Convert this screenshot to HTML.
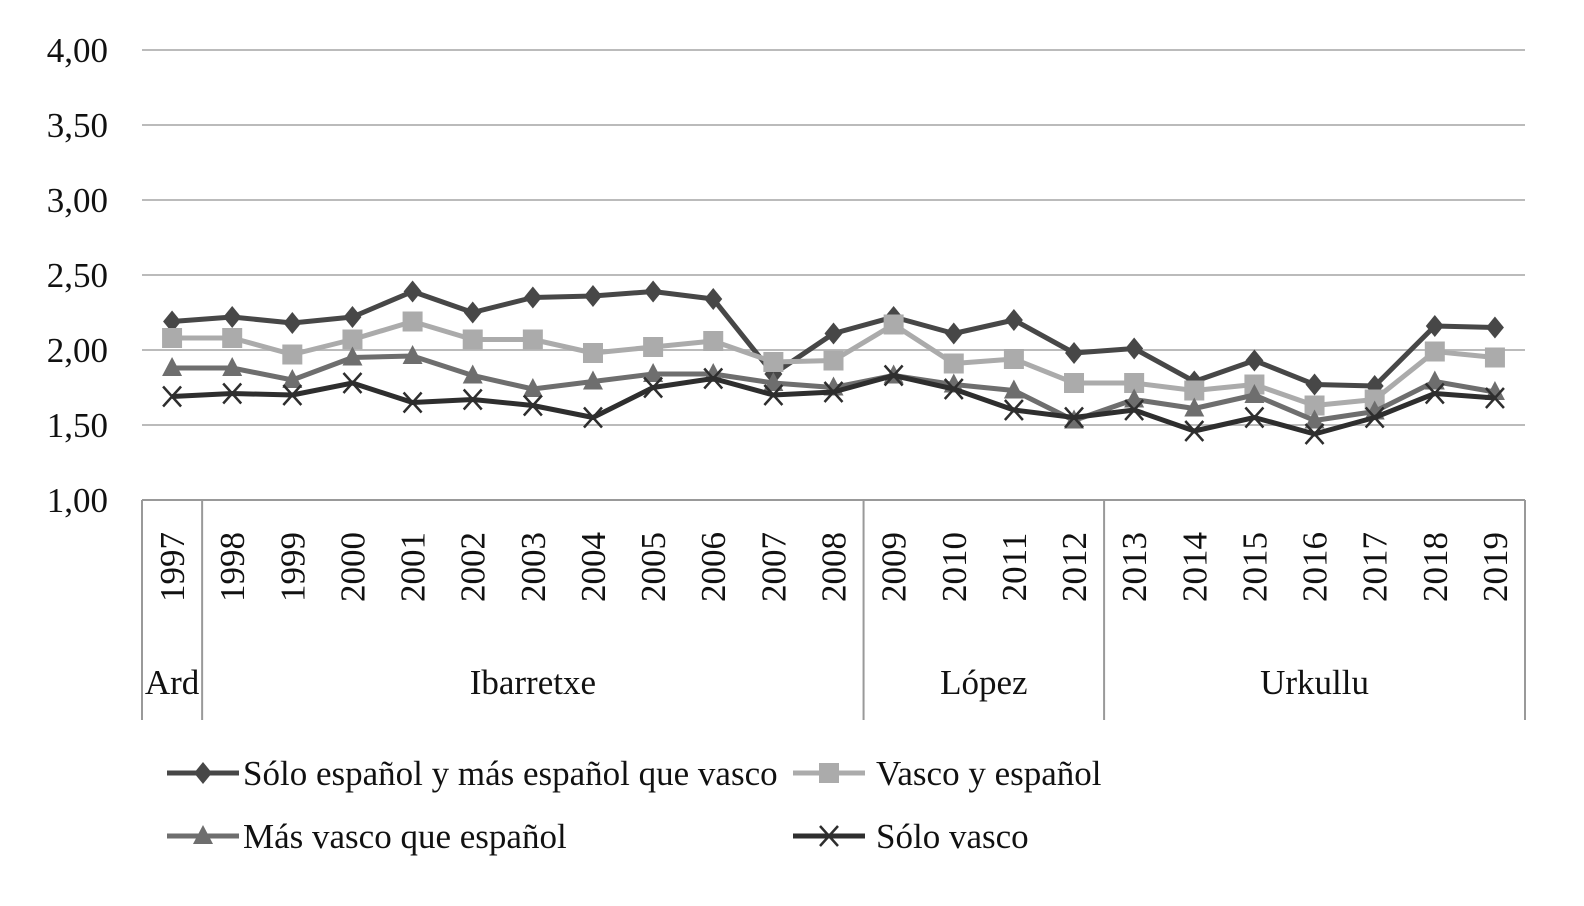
<!DOCTYPE html>
<html><head><meta charset="utf-8"><style>
body{margin:0;background:#fff;}
svg text{font-family:"Liberation Serif",serif;fill:#111;}
</style></head><body>
<svg id="chart" width="1584" height="901" xmlns="http://www.w3.org/2000/svg">
<g id="grid"></g><g id="axes"></g><g id="series"></g><g id="legend"></g>
</svg>
<script>
const years=["1997","1998","1999","2000","2001","2002","2003","2004","2005","2006","2007","2008","2009","2010","2011","2012","2013","2014","2015","2016","2017","2018","2019"];
const yTicks=[1,1.5,2,2.5,3,3.5,4];
const groups=[["Ard",0,1],["Ibarretxe",1,12],["López",12,16],["Urkullu",16,23]];
const s1=[2.19,2.22,2.18,2.22,2.39,2.25,2.35,2.36,2.39,2.34,1.84,2.11,2.22,2.11,2.20,1.98,2.01,1.79,1.93,1.77,1.76,2.16,2.15];
const s2=[2.08,2.08,1.97,2.07,2.19,2.07,2.07,1.98,2.02,2.06,1.92,1.93,2.17,1.91,1.94,1.78,1.78,1.73,1.77,1.63,1.67,1.99,1.95];
const s3=[1.88,1.88,1.80,1.95,1.96,1.83,1.74,1.79,1.84,1.84,1.78,1.75,1.83,1.77,1.73,1.53,1.67,1.61,1.70,1.53,1.59,1.79,1.72];
const s4=[1.69,1.71,1.70,1.78,1.65,1.67,1.63,1.55,1.75,1.81,1.70,1.72,1.83,1.74,1.60,1.55,1.60,1.46,1.55,1.44,1.55,1.71,1.68];
const seriesNames=["Sólo español y más español que vasco","Vasco y español","Más vasco que español","Sólo vasco"];
const NS="http://www.w3.org/2000/svg";
const X0=142,X1=1525,Y0=500,Y1=50;
const bw=(X1-X0)/years.length;
const xb=i=>X0+i*bw;
const xc=i=>X0+(i+0.5)*bw;
const y=v=>Y0-(v-1)/3*(Y0-Y1);
function mk(tag,attrs,parent){const e=document.createElementNS(NS,tag);for(const k in attrs)e.setAttribute(k,attrs[k]);parent.appendChild(e);return e;}
const grid=document.getElementById('grid'),axes=document.getElementById('axes'),ser=document.getElementById('series'),leg=document.getElementById('legend');
yTicks.forEach(t=>{
 if(t>1){const l=mk('line',{x1:X0,x2:X1,y1:y(t),y2:y(t),stroke:'#bbb','stroke-width':2},grid);
 
 }
 const tx=mk('text',{x:108,y:y(t)+12,'text-anchor':'end','font-size':35},axes);tx.textContent=t.toFixed(2).replace('.',',');
 
 
});
const ax=mk('line',{x1:X0,x2:X1,y1:Y0,y2:Y0,stroke:'#999','stroke-width':2},axes);


years.forEach((yr,i)=>{
 const t=mk('text',{x:0,y:0,'font-size':35,'text-anchor':'middle',transform:`translate(${xc(i)+12},567) rotate(-90)`},axes);t.textContent=yr;
 
 
});
const divs=new Set();groups.forEach(g=>{divs.add(g[1]);divs.add(g[2]);});
divs.forEach(i=>{const l=mk('line',{x1:xb(i),x2:xb(i),y1:Y0,y2:720,stroke:'#999','stroke-width':2},axes);
 
 });
groups.forEach(g=>{const t=mk('text',{x:(xb(g[1])+xb(g[2]))/2,y:694,'text-anchor':'middle','font-size':35},axes);t.textContent=g[0];
 
 });
const colors=['#474747','#ababab','#6e6e6e','#2e2e2e'];
const kinds=['diamond','square','triangle','x'];
function marker(kind,cx,cy,col,p){
 let e;
 if(kind==='diamond')e=mk('path',{d:`M${cx},${cy-11}L${cx+9},${cy}L${cx},${cy+11}L${cx-9},${cy}Z`,fill:col},p);
 else if(kind==='square')e=mk('rect',{x:cx-10,y:cy-10,width:20,height:20,fill:col},p);
 else if(kind==='triangle')e=mk('path',{d:`M${cx},${cy-11}L${cx+10},${cy+8}L${cx-10},${cy+8}Z`,fill:col},p);
 else e=mk('path',{d:`M${cx-9},${cy-10}L${cx+9},${cy+10}M${cx+9},${cy-10}L${cx-9},${cy+10}`,stroke:col,'stroke-width':2.5,fill:'none'},p);
 return e;
}
[s1,s2,s3,s4].forEach((s,k)=>{
 const g=mk('g',{},ser);
 
 
 const pl=mk('polyline',{points:s.map((v,i)=>xc(i)+','+y(v)).join(' '),fill:'none',stroke:colors[k],'stroke-width':5,'stroke-linejoin':'round'},g);
 
 
 s.forEach((v,i)=>{const m=marker(kinds[k],xc(i),y(v),colors[k],g);
  
  });
});
const lpos=[[167,773],[793,773],[167,836],[793,836]];
seriesNames.forEach((n,k)=>{
 const g=mk('g',{},leg);
 
 
 const [lx,ly]=lpos[k];
 mk('line',{x1:lx,x2:lx+72,y1:ly,y2:ly,stroke:colors[k],'stroke-width':5},g);
 marker(kinds[k],lx+36,ly,colors[k],g);
 const t=mk('text',{x:k%2?lx+83:lx+76,y:ly+12,'font-size':35},g);t.textContent=n;
});
</script>
</body></html>
